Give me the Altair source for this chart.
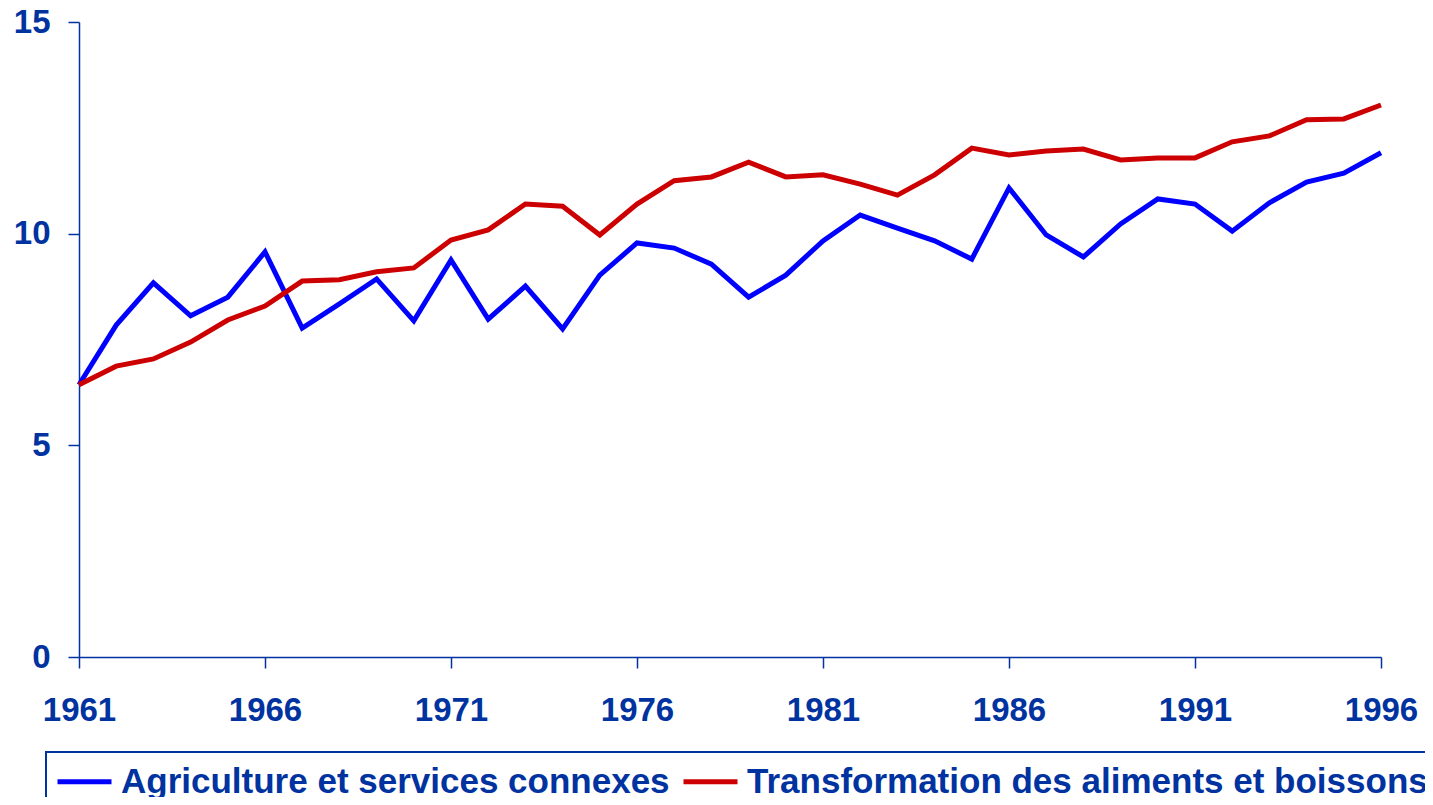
import altair as alt
import pandas as pd

years = [1961, 1962, 1963, 1964, 1965, 1966, 1967, 1968, 1969, 1970,
         1971, 1972, 1973, 1974, 1975, 1976, 1977, 1978, 1979, 1980,
         1981, 1982, 1983, 1984, 1985, 1986, 1987, 1988, 1989, 1990,
         1991, 1992, 1993, 1994, 1995, 1996]

agriculture = [6.43, 7.84, 8.84, 8.06, 8.50, 9.57, 7.77, 8.34, 8.93, 7.94,
               9.38, 7.98, 8.76, 7.75, 9.02, 9.78, 9.66, 9.28, 8.50, 9.02,
               9.83, 10.44, 10.13, 9.83, 9.40, 11.08, 9.97, 9.45, 10.23, 10.82,
               10.70, 10.06, 10.73, 11.22, 11.43, 11.91]

transformation = [6.43, 6.87, 7.04, 7.44, 7.96, 8.29, 8.88, 8.91, 9.10, 9.19,
                  9.85, 10.09, 10.70, 10.65, 9.97, 10.70, 11.25, 11.34, 11.69, 11.34,
                  11.39, 11.17, 10.91, 11.39, 12.02, 11.86, 11.95, 12.00, 11.74, 11.79,
                  11.79, 12.17, 12.31, 12.69, 12.71, 13.04]

series_names = ["Agriculture et services connexes",
                "Transformation des aliments et boissons"]
series_colors = ["#0000FF", "#CC0000"]
x_ticks = [1961, 1966, 1971, 1976, 1981, 1986, 1991, 1996]
y_ticks = [0, 5, 10, 15]

df = pd.DataFrame({
    "year": years * 2,
    "value": agriculture + transformation,
    "series": [series_names[0]] * len(years) + [series_names[1]] * len(years),
})

axis_color = "#0033A0"
font = "Liberation Sans"

lines = alt.Chart(df).mark_line(strokeWidth=5, strokeJoin="miter").encode(
    x=alt.X("year:Q",
            scale=alt.Scale(domain=[1961, 1996], nice=False, zero=False),
            axis=alt.Axis(values=x_ticks, format="d", title=None, grid=False,
                          tickSize=11, tickColor=axis_color, domainColor=axis_color,
                          labelColor=axis_color, labelFont=font, labelFontSize=33,
                          labelFontWeight="bold", labelPadding=26, labelFlush=False,
                          domainWidth=1.5, tickWidth=1.5)),
    y=alt.Y("value:Q",
            scale=alt.Scale(domain=[0, 15], nice=False),
            axis=alt.Axis(values=y_ticks, title=None, grid=False,
                          tickSize=11, tickColor=axis_color, domainColor=axis_color,
                          labelColor=axis_color, labelFont=font, labelFontSize=33,
                          labelFontWeight="bold", labelPadding=18,
                          domainWidth=1.5, tickWidth=1.5)),
    color=alt.Color("series:N",
                    scale=alt.Scale(domain=series_names, range=series_colors),
                    sort=series_names,
                    legend=alt.Legend(title=None, orient="none",
                                      legendX=-33, legendY=730,
                                      direction="horizontal",
                                      symbolType="stroke", symbolSize=2916,
                                      symbolStrokeWidth=5, symbolOffset=9,
                                      labelFont=font, labelFontSize=35,
                                      labelFontWeight="bold", labelColor=axis_color,
                                      labelOffset=7, labelLimit=1000,
                                      columnPadding=2, padding=0)),
)

frame = alt.Chart(pd.DataFrame({"k": [0]})).mark_rect(
    fill="white", fillOpacity=0, stroke=axis_color, strokeWidth=2
).encode(
    x=alt.value(-33), x2=alt.value(1420), y=alt.value(730), y2=alt.value(800)
)

chart = alt.layer(frame, lines).properties(
    width=1302,
    height=635,
    padding={"left": 71, "top": 14, "right": 44, "bottom": 140},
    autosize=alt.AutoSizeParams(type="none"),
).configure_view(stroke=None)

chart.save("out.html", embed_options={"renderer": "svg", "actions": False})
